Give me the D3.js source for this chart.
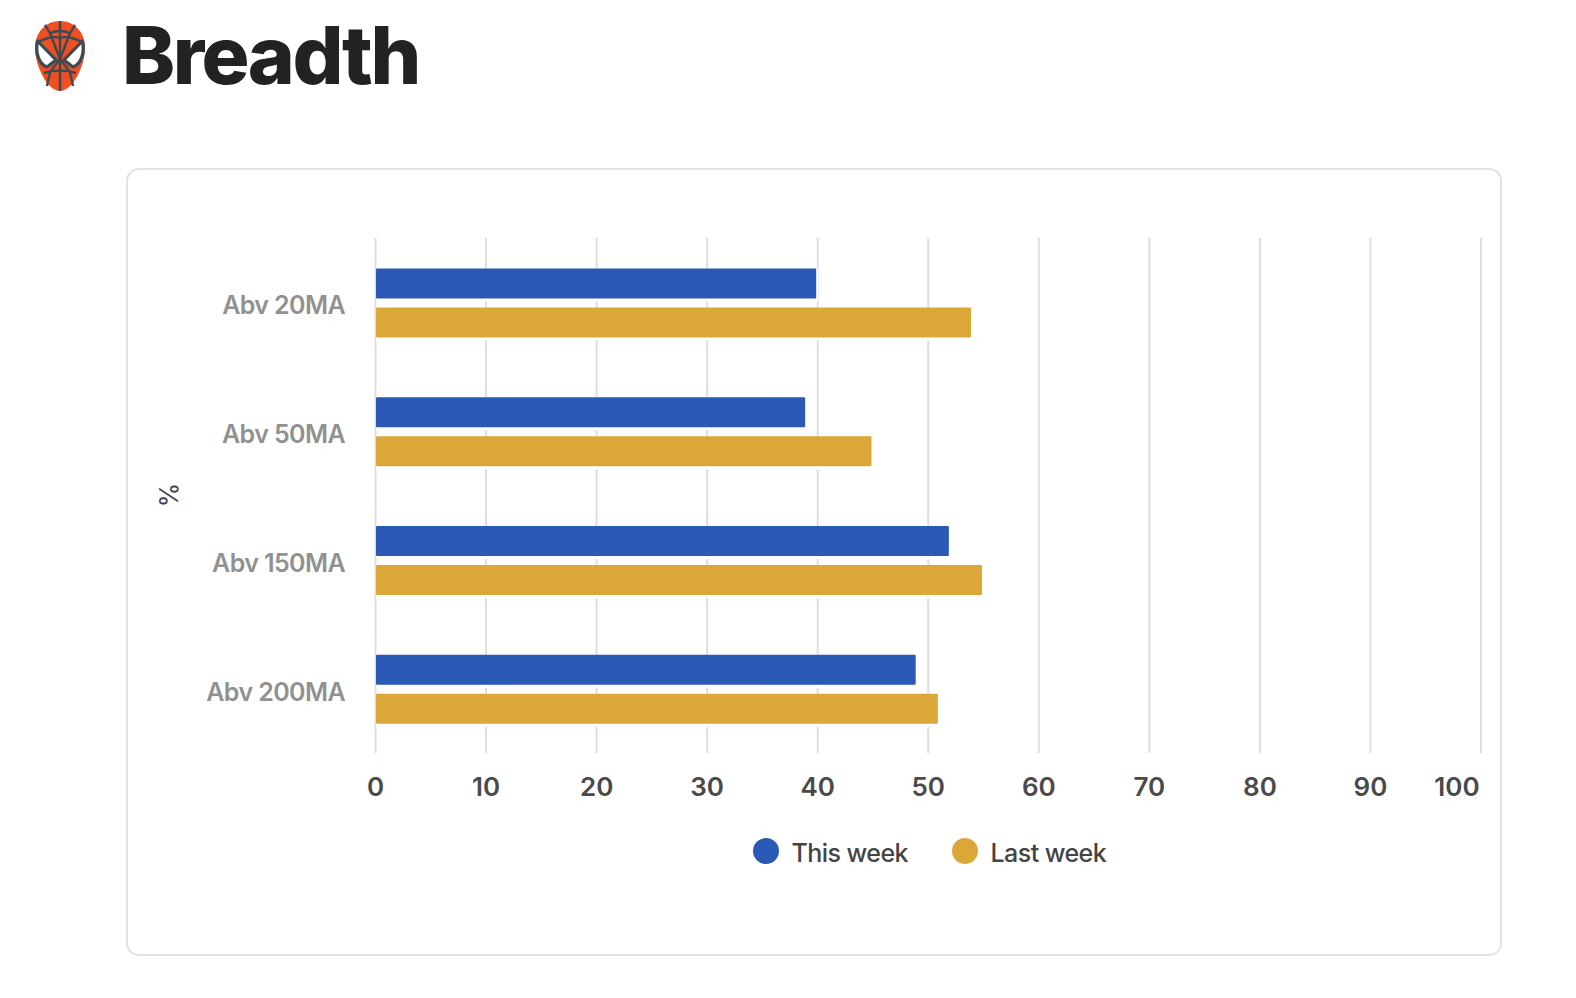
<!DOCTYPE html>
<html>
<head>
<meta charset="utf-8">
<script src="https://cdn.jsdelivr.net/npm/d3@7"></script>
<style>
    html, body { margin: 0; padding: 0; background: #fff; overflow: hidden; }
    text { font-family: Inter, "Noto Sans", sans-serif; }
</style>
</head>
<body>
<div id="visualization-container"></div>
<script>
const categories = ["Abv 20MA", "Abv 50MA", "Abv 150MA", "Abv 200MA"];
const seriesNames = ["This week", "Last week"];
const thisWeek = [40, 39, 52, 49];
const lastWeek = [54, 45, 55, 51];
const xTicks = [0, 10, 20, 30, 40, 50, 60, 70, 80, 90, 100];
const seriesColors = ["#2a59b6", "#dba739"];

function drawChart() {
    const pageWidth = 1576, pageHeight = 998;
    const plot = { left: 375, right: 1480.5, top: 238, bottom: 753 };

    const svg = d3.select("#visualization-container").append("svg")
        .attr("width", pageWidth)
        .attr("height", pageHeight)
        .style("display", "block");

    // Title and icon
    drawMask(svg);
    svg.append("text")
        .attr("x", 122)
        .attr("y", 83.5)
        .attr("font-size", 80)
        .attr("font-weight", 800)
        .attr("letter-spacing", -2.5)
        .attr("fill", "#222222")
        .text("Breadth");

    // Card
    svg.append("rect")
        .attr("x", 127).attr("y", 169)
        .attr("width", 1374).attr("height", 786)
        .attr("rx", 12)
        .attr("fill", "#fff")
        .attr("stroke", "#e2e2e2")
        .attr("stroke-width", 2);

    const xScale = d3.scaleLinear()
        .domain([0, 100])
        .range([plot.left, plot.right]);

    const yScale = d3.scaleBand()
        .domain(categories)
        .range([plot.top, plot.bottom])
        .paddingInner(0.464)
        .paddingOuter(0.232);

    const ySeries = d3.scaleBand()
        .domain(seriesNames)
        .range([0, yScale.bandwidth()])
        .paddingInner(0.231);

    // Grid lines and x axis
    const xAxis = svg.append("g")
        .attr("transform", `translate(0,${plot.bottom})`)
        .call(d3.axisBottom(xScale)
            .tickValues(xTicks)
            .tickSize(-(plot.bottom - plot.top))
            .tickPadding(24.5));
    xAxis.select(".domain").remove();
    xAxis.selectAll("line")
        .attr("stroke", "#dedede")
        .attr("stroke-width", 2);
    xAxis.selectAll("text")
        .attr("font-family", "Inter")
        .attr("font-size", 26)
        .attr("font-weight", 600)
        .attr("fill", "#4a4a4a")
        .attr("dx", d => d === 100 ? -24 : 0);

    // Category labels
    const yAxis = svg.append("g")
        .attr("transform", `translate(${plot.left},4)`)
        .call(d3.axisLeft(yScale).tickSize(0).tickPadding(30));
    yAxis.select(".domain").remove();
    yAxis.selectAll("text")
        .attr("font-family", "Inter")
        .attr("font-size", 25)
        .attr("font-weight", 600)
        .attr("letter-spacing", -0.6)
        .attr("fill", "#919191");

    // Bars
    const values = [thisWeek, lastWeek];
    seriesNames.forEach((name, s) => {
        const rows = svg.append("g").selectAll("g")
            .data(values[s])
            .enter().append("g")
            .attr("transform", (d, i) => `translate(0,${yScale(categories[i]) + ySeries(name) + 0.7})`);

        // white edge under the bar, it breaks the grid lines
        rows.append("rect")
            .attr("x", xScale(0) + 1)
            .attr("y", 0)
            .attr("width", d => xScale(d) - xScale(0))
            .attr("height", ySeries.bandwidth() + 3)
            .attr("fill", "#fff");

        rows.append("rect")
            .attr("x", xScale(0) + 1)
            .attr("y", 0)
            .attr("width", d => xScale(d) - xScale(0) - 2)
            .attr("height", ySeries.bandwidth())
            .attr("rx", 1)
            .attr("fill", seriesColors[s]);
    });

    // Axis title
    svg.append("text")
        .attr("transform", "translate(178,495) rotate(-90)")
        .attr("text-anchor", "middle")
        .attr("font-size", 25)
        .attr("fill", "#444444")
        .text("%");

    // Legend
    const legendX = [766, 965];
    const legend = svg.append("g").selectAll("g")
        .data(seriesNames)
        .enter().append("g")
        .attr("transform", (d, i) => `translate(${legendX[i]},851)`);
    legend.append("circle")
        .attr("r", 13)
        .attr("fill", (d, i) => seriesColors[i]);
    legend.append("text")
        .attr("x", 25.5)
        .attr("y", 11)
        .attr("font-size", 25)
        .attr("font-weight", 500)
        .attr("letter-spacing", -0.55)
        .attr("fill", "#444444")
        .text(d => d);
}

function drawMask(svg) {
    const web = "#3e4a52";
    const g = svg.append("g").attr("transform", "translate(60,21)");

    g.append("path")
        .attr("d", "M0,0 C15,0 25,12 25,27 C25,44 13,70 0,70 C-13,70 -25,44 -25,27 C-25,12 -15,0 0,0 Z")
        .attr("fill", "#f04e23");

    const strands = [
        "M0,0 V70",
        "M0,38 L-10,12 L-15,4",
        "M0,38 L10,12 L15,4",
        "M-10,12 Q0,8 10,12",
        "M-22,21 Q-8,14 0,17 Q8,14 22,21",
        "M0,38 L-10,51 L-13,65",
        "M0,38 L10,51 L13,65",
        "M-16,52 Q0,47 16,52"
    ];
    g.selectAll(".strand")
        .data(strands)
        .enter().append("path")
        .attr("class", "strand")
        .attr("d", d => d)
        .attr("fill", "none")
        .attr("stroke", web)
        .attr("stroke-width", 2.4);

    const eyes = ["M-22.5,20 C-25,32 -21,43 -13,46 L-4,39 Z", "M22.5,20 C25,32 21,43 13,46 L4,39 Z"];
    g.selectAll(".eye")
        .data(eyes)
        .enter().append("path")
        .attr("class", "eye")
        .attr("d", d => d)
        .attr("fill", "#fff")
        .attr("stroke", web)
        .attr("stroke-width", 3.2)
        .attr("stroke-linejoin", "round");
}

drawChart();
</script>
</body>
</html>
